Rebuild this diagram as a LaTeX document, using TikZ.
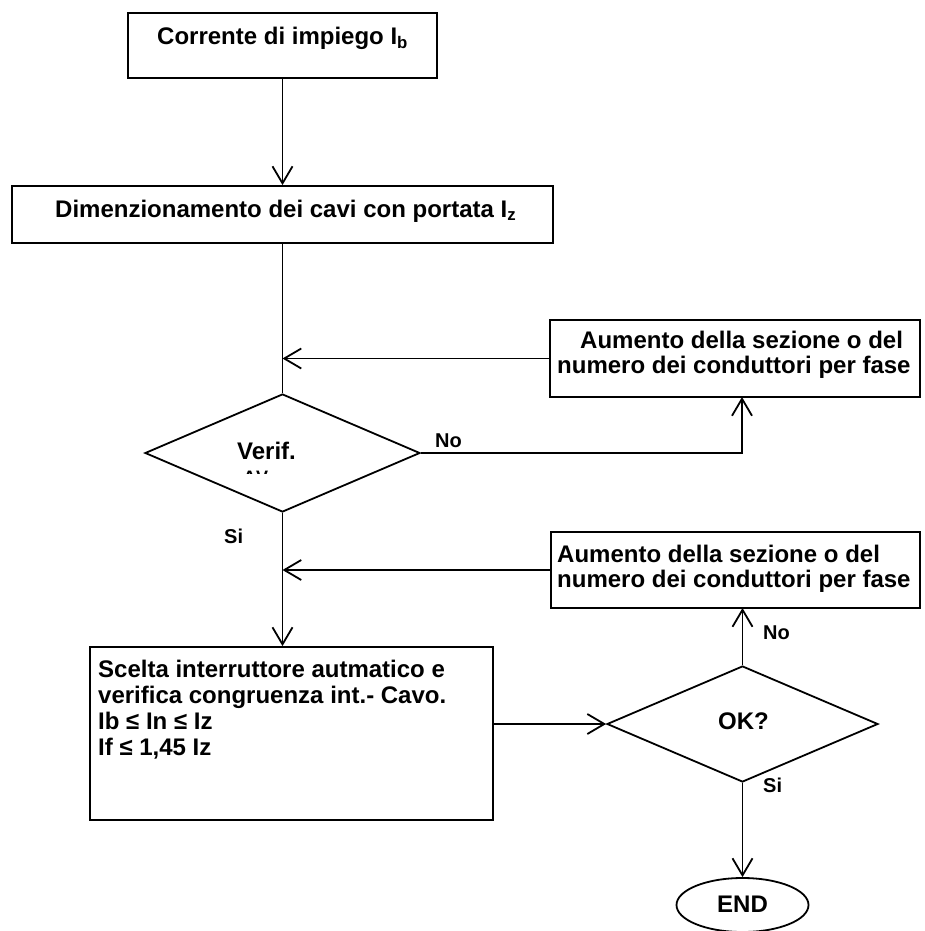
\documentclass[tikz,border=0pt]{standalone}
\usepackage{fontspec}
\setmainfont{Liberation Sans}
\usetikzlibrary{arrows.meta,shapes.geometric}
\begin{document}
\begin{tikzpicture}[x=1pt,y=-1pt,
  box/.style={draw, line width=1.8pt, rectangle, inner sep=0pt},
  dia/.style={draw, diamond, line width=1.8pt, inner sep=0pt},
  oval/.style={draw, ellipse, line width=1.8pt, inner sep=0pt},
  txt/.style={inner sep=0pt, anchor=base west, font=\bfseries\fontsize{24}{26}\selectfont},
  lab/.style={inner sep=0pt, anchor=base west, font=\bfseries\fontsize{20}{22}\selectfont},
  conn/.style={line width=1.8pt},
  arr/.style={conn, -{Straight Barb[length=17pt,width=20pt]}}]
\useasboundingbox (0,0) rectangle (924,931);
\fill[white] (0,0) rectangle (924,931);

% boxes
\node[box, minimum width=309pt, minimum height=65pt] (b1) at (282.5,45.5) {};
\node[box, minimum width=541pt, minimum height=57pt] (b2) at (282.5,214.5) {};
\node[box, minimum width=370pt, minimum height=77pt] (b3) at (735,358.5) {};
\node[box, minimum width=369pt, minimum height=76pt] (b5) at (735.5,570) {};
\node[box, minimum width=403pt, minimum height=173pt] (b4) at (291.5,733.5) {};
\node[dia, minimum width=275pt, minimum height=118pt] (d1) at (282.5,453) {};
\node[dia, minimum width=271pt, minimum height=116pt] (d2) at (742.5,724) {};
\node[oval, minimum width=132pt, minimum height=54pt] (e) at (742.5,905) {};

% texts
\node[txt] (t1) at (157,45) {Corrente di impiego I\textsubscript{b}};
\node[txt] (t2) at (55,217) {Dimenzionamento dei cavi con portata I\textsubscript{z}};
\node[txt] (t3a) at (580,348) {Aumento della sezione o del};
\node[txt] (t3b) at (557,373) {numero dei conduttori per fase};
\node[txt] (t5a) at (557,562) {Aumento della sezione o del};
\node[txt] (t5b) at (557,587) {numero dei conduttori per fase};
\node[txt] (t4a) at (98,677) {Scelta interruttore autmatico e};
\node[txt] (t4b) at (98,703) {verifica congruenza int.- Cavo.};
\node[txt] (t4c) at (98,729) {Ib ≤ In ≤ Iz};
\node[txt] (t4d) at (98,755) {If ≤ 1,45 Iz};
\node[txt] (tv) at (237,459) {Verif.};
\node[txt] (tok) at (718,729) {OK?};
\node[txt] (tend) at (717,912) {END};
\node[lab] (no1) at (435,447) {No};
\node[lab] (si1) at (224,543) {Si};
\node[lab] (no2) at (763,639) {No};
\node[lab] (si2) at (763,792) {Si};

% clipped text under Verif.
\begin{scope}
\clip (235,470) rectangle (275,473.5);
\node[inner sep=0pt, anchor=north west, font=\bfseries\fontsize{18}{20}\selectfont] (dv) at (243,471) {ΔV};
\end{scope}

% connectors
\coordinate (b3in) at (742,397);
\coordinate (b5in) at (742.5,608);
\draw[arr] (b1.south) -- (b2.north);
\draw[conn] (b2.south) -- (d1.north);
\draw[arr] (b3.west) -- (b3.west -| b2.south);
\draw[arr] (d1.east) -| (b3in);
\draw[arr] (d1.south) -- (d1.south |- b4.north);
\draw[arr] (b5.west) -- (b5.west -| d1.south);
\draw[arr] (b4.east |- d2.west) -- (d2.west);
\draw[arr] (d2.north) -- (b5in);
\draw[arr] (d2.south) -- (e.north);
\end{tikzpicture}
\end{document}
